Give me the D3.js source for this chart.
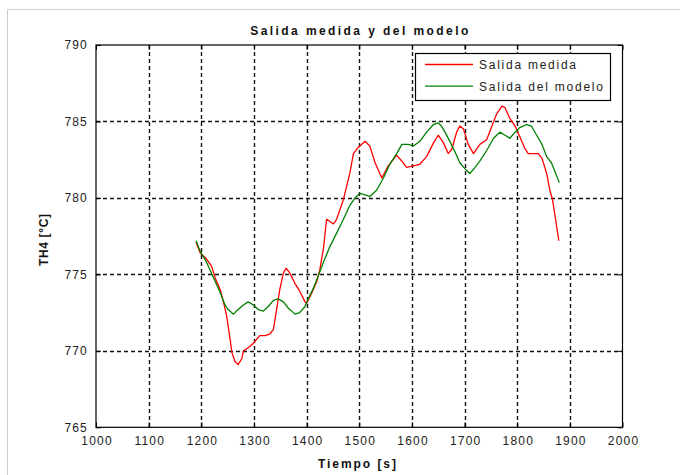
<!DOCTYPE html>
<html>
<head>
<meta charset="utf-8">
<script src="https://cdn.jsdelivr.net/npm/d3@7"></script>
<style>
  html, body { margin: 0; padding: 0; background: #fff; }
  svg { display: block; }
  text { font-family: "Liberation Sans", Arial, sans-serif; }
</style>
</head>
<body>
<svg id="chart" width="680" height="475"></svg>
<script>
// ---------- data ----------
const title = "Salida medida y del modelo";
const xLabel = "Tiempo [s]";
const yLabel = "TH4 [°C]";
const xTicks = [1000, 1100, 1200, 1300, 1400, 1500, 1600, 1700, 1800, 1900, 2000];
const yTicks = [765, 770, 775, 780, 785, 790];
const seriesNames = ["Salida medida", "Salida del modelo"];
const seriesColors = ["#ff0000", "#008000"];

const tMedida = [1190, 1198, 1210, 1220, 1226, 1236, 1242, 1248, 1255, 1258, 1264, 1270, 1277, 1280, 1289, 1299,
  1311, 1321, 1330, 1337, 1343, 1349, 1356, 1361, 1368, 1378, 1387, 1397, 1400, 1410, 1419, 1425, 1432, 1438,
  1451, 1457, 1470, 1482, 1489, 1498, 1511, 1520, 1530, 1543, 1555, 1571, 1581, 1590, 1615, 1628, 1641, 1650,
  1660, 1669, 1676, 1685, 1691, 1698, 1707, 1717, 1729, 1742, 1752, 1761, 1771, 1777, 1786, 1796, 1805, 1815,
  1821, 1840, 1847, 1856, 1862, 1867, 1872, 1876, 1879];
const medida = [777.1, 776.4, 776.0, 775.5, 774.8, 774.0, 773.2, 772.3, 770.7, 769.9, 769.3, 769.1, 769.5, 770.0, 770.2, 770.5,
  771.0, 771.0, 771.1, 771.4, 772.7, 774.0, 775.1, 775.4, 775.1, 774.4, 773.9, 773.2, 773.1, 773.8, 774.5, 775.3, 776.7, 778.6,
  778.3, 778.6, 779.9, 781.6, 782.9, 783.3, 783.7, 783.4, 782.3, 781.3, 782.1, 782.8, 782.4, 782.0, 782.2, 782.7, 783.6, 784.1,
  783.6, 782.9, 783.2, 784.3, 784.7, 784.5, 783.5, 782.9, 783.5, 783.8, 784.7, 785.5, 786.0, 785.9, 785.2, 784.7, 784.0, 783.2,
  782.9, 782.9, 782.6, 781.6, 780.5, 779.9, 778.8, 777.9, 777.2];

const tModelo = [1190, 1198, 1210, 1223, 1236, 1245, 1251, 1261, 1270, 1280, 1289, 1299, 1308, 1318, 1327, 1337,
  1346, 1356, 1365, 1378, 1387, 1397, 1403, 1413, 1422, 1432, 1444, 1457, 1470, 1482, 1492, 1501, 1511, 1520,
  1533, 1546, 1558, 1571, 1581, 1593, 1603, 1615, 1628, 1641, 1650, 1656, 1663, 1672, 1682, 1691, 1701, 1710,
  1720, 1729, 1742, 1755, 1767, 1777, 1786, 1796, 1805, 1818, 1827, 1837, 1847, 1856, 1865, 1872, 1880];
const modelo = [777.2, 776.5, 775.8, 774.8, 773.8, 773.0, 772.7, 772.4, 772.7, 773.0, 773.2, 773.0, 772.7, 772.6, 772.9, 773.3,
  773.4, 773.2, 772.8, 772.4, 772.5, 772.9, 773.4, 774.1, 774.9, 775.8, 776.8, 777.7, 778.6, 779.5, 780.0, 780.3, 780.2, 780.1,
  780.5, 781.3, 782.2, 782.9, 783.5, 783.5, 783.4, 783.7, 784.3, 784.8, 784.9, 784.7, 784.3, 783.7, 783.0, 782.3, 781.9, 781.6,
  782.0, 782.4, 783.1, 783.9, 784.3, 784.1, 783.9, 784.3, 784.6, 784.8, 784.7, 784.1, 783.5, 782.7, 782.3, 781.7, 781.0];

// ---------- layout ----------
const svg = d3.select("#chart");
const plot = { left: 96, right: 622.5, top: 45, bottom: 427.3 };

const x = d3.scaleLinear().domain([1000, 2000]).range([plot.left, plot.right]);
const y = d3.scaleLinear().domain([765, 790]).range([plot.bottom, plot.top]);

// outer page frame (gray lines top & left)
svg.append("line").attr("x1", 7.5).attr("x2", 680).attr("y1", 9.5).attr("y2", 9.5)
  .attr("stroke", "#cfcfcf").attr("stroke-width", 1);
svg.append("line").attr("x1", 7.5).attr("x2", 7.5).attr("y1", 9.5).attr("y2", 475)
  .attr("stroke", "#cfcfcf").attr("stroke-width", 1);

// grid
const grid = svg.append("g");
grid.selectAll("line.vg").data(xTicks.slice(1, -1)).join("line")
  .attr("x1", d => Math.round(x(d)) + 0.5).attr("x2", d => Math.round(x(d)) + 0.5)
  .attr("y1", plot.top).attr("y2", plot.bottom)
  .attr("stroke", "#111").attr("stroke-width", 1.4).attr("stroke-dasharray", "4,3");
grid.selectAll("line.hg").data(yTicks.slice(1, -1)).join("line")
  .attr("y1", d => Math.round(y(d)) + 0.5).attr("y2", d => Math.round(y(d)) + 0.5)
  .attr("x1", plot.left).attr("x2", plot.right)
  .attr("stroke", "#111").attr("stroke-width", 1.4).attr("stroke-dasharray", "4,3");

// axes (ticks inward on all sides)
const fontTick = "12px";
const xb = svg.append("g").attr("transform", `translate(0,${plot.bottom})`)
  .call(d3.axisBottom(x).tickValues(xTicks).tickSize(-5).tickPadding(9).tickFormat(d3.format("d")));
const xt = svg.append("g").attr("transform", `translate(0,${plot.top})`)
  .call(d3.axisTop(x).tickValues(xTicks).tickSize(-5).tickFormat(""));
const yl = svg.append("g").attr("transform", `translate(${plot.left},0)`)
  .call(d3.axisLeft(y).tickValues(yTicks).tickSize(-5).tickPadding(8).tickFormat(d3.format("d")));
const yr = svg.append("g").attr("transform", `translate(${plot.right},0)`)
  .call(d3.axisRight(y).tickValues(yTicks).tickSize(-5).tickFormat(""));

[xb, xt, yl, yr].forEach(g => {
  g.select(".domain").remove();
  g.selectAll(".tick line").attr("stroke", "#000");
  g.selectAll("text").attr("fill", "#222").style("font-size", fontTick)
    .style("letter-spacing", "1.2px").attr("font-family", "Liberation Sans, Arial, sans-serif");
});
xb.selectAll("text").attr("dx", "0.6px");

// box
svg.append("rect").attr("x", plot.left).attr("y", plot.top)
  .attr("width", plot.right - plot.left).attr("height", plot.bottom - plot.top)
  .attr("fill", "none").attr("stroke", "#000").attr("stroke-width", 1.2);

// clip
svg.append("clipPath").attr("id", "clip").append("rect")
  .attr("x", plot.left).attr("y", plot.top)
  .attr("width", plot.right - plot.left).attr("height", plot.bottom - plot.top);

const line = d3.line().x(d => x(d[0])).y(d => y(d[1]));
const series = [
  d3.zip(tMedida, medida),
  d3.zip(tModelo, modelo)
];
svg.append("g").attr("clip-path", "url(#clip)")
  .selectAll("path").data(series).join("path")
  .attr("d", line)
  .attr("fill", "none")
  .attr("stroke", (d, i) => seriesColors[i])
  .attr("stroke-width", 1.3)
  .attr("stroke-linejoin", "round");

// title & labels
svg.append("text").attr("x", (plot.left + plot.right) / 2).attr("y", 35)
  .attr("text-anchor", "middle").attr("font-weight", "bold").style("font-size", "12px")
  .attr("textLength", 218).attr("lengthAdjust", "spacing").attr("fill", "#111")
  .text(title);
svg.append("text").attr("x", 357).attr("y", 468)
  .attr("text-anchor", "middle").attr("font-weight", "bold").style("font-size", "12px")
  .attr("textLength", 78).attr("lengthAdjust", "spacing").attr("fill", "#111")
  .text(xLabel);
svg.append("text").attr("transform", "translate(48,240) rotate(-90)")
  .attr("text-anchor", "middle").attr("font-weight", "bold").style("font-size", "12px")
  .attr("textLength", 52).attr("lengthAdjust", "spacing").attr("fill", "#111")
  .text(yLabel);

// legend
const lg = svg.append("g");
lg.append("rect").attr("x", 415.5).attr("y", 53.5).attr("width", 195).attr("height", 47)
  .attr("fill", "#fff").attr("stroke", "#000").attr("stroke-width", 1.2);
const legendWidths = [97, 124];
seriesNames.forEach((name, i) => {
  const cy = 64.5 + i * 21.7;
  lg.append("line").attr("x1", 425).attr("x2", 473).attr("y1", cy).attr("y2", cy)
    .attr("stroke", seriesColors[i]).attr("stroke-width", 1.3);
  lg.append("text").attr("x", 479).attr("y", cy + 4.3)
    .style("font-size", "12px").attr("fill", "#222")
    .attr("textLength", legendWidths[i]).attr("lengthAdjust", "spacing")
    .text(name);
});
</script>
</body>
</html>
